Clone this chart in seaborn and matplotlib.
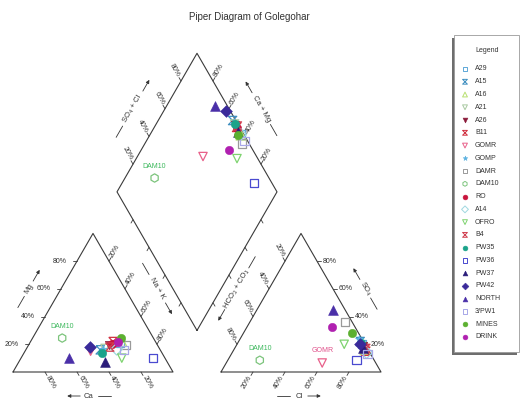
import numpy as np
import matplotlib
matplotlib.use("Agg")
import matplotlib.pyplot as plt
import seaborn as sns
from matplotlib.patches import Rectangle

# -----------------------------
# Data (meq %)
# -----------------------------
SAMPLES = ["A29", "A15", "A16", "A21", "A26", "B11", "GOMR", "GOMP", "DAMR", "DAM10", "RO",
           "A14", "OFRO", "B4", "PW35", "PW36", "PW37", "PW42", "NORTH", "3/PW1", "MINES", "DRINK"]
NA_K = [56.5, 46.5, 57, 49, 50, 51.5, 41, 48, 60.5, 18.5, 52,
        56.5, 63, 51.5, 49, 82.5, 54, 39, 30, 61.5, 55, 55]
MG = [21, 16, 22, 17, 19.5, 22, 15, 16.5, 19.5, 24.5, 20,
      16.5, 10, 18, 13.5, 10, 7, 18, 10, 16, 24.5, 21.5]
CL = [78, 76, 82, 80, 79, 83, 60, 74, 59.5, 20, 81,
      84, 67, 82, 77, 80.5, 80, 77, 47.5, 85, 68, 53]
SO4 = [20, 22, 16, 18, 19, 15, 6.5, 24, 36, 8.5, 17,
       14, 20, 17, 21, 8.5, 17, 20, 44.5, 13, 28, 32.5]

HOURGLASS = [(-1, 1), (1, 1), (-1, -1), (1, -1), (-1, 1)]
MARKERS = ["s", HOURGLASS, "^", "v", "v", HOURGLASS, "v", "*", "s", "h", "o",
           "D", "v", HOURGLASS, "o", "s", "^", "D", "^", "s", "o", "o"]
FILLED = [False, False, False, False, True, False, False, True, False, False, True,
          False, False, False, True, False, True, True, True, False, True, True]
COLORS = ["#5fa8d8", "#3f8fc0", "#b8e070", "#a8c8a0", "#8b1a3a", "#d03040", "#e8608a",
          "#58b0e0", "#9a9a9a", "#7cc47c", "#c8143c", "#9fd8e0", "#7ed36f", "#d04050",
          "#1aa38a", "#4a4ad0", "#2b1d7a", "#3a2a9a", "#4a2fa8", "#a8a8e8", "#5cb030", "#b020b0"]

TICK_VALUES = [20, 40, 60, 80]

# -----------------------------
# Geometry
# -----------------------------
GAP = 0.3
H = np.sqrt(3) / 2
PX = 160.0          # pixels per unit side
X0, Y0 = 13, 372    # pixel position of the cation triangle's left corner
EDGE = "#3a3a3a"
TXT = "#333333"


def to_data(xp, yp):
    return (xp - X0) / PX, (Y0 - yp) / PX


def cation_xy(nak, mg):
    return nak + 0.5 * mg, H * mg


def anion_xy(cl, so4):
    return 1 + GAP + cl + 0.5 * so4, H * so4


def diamond_xy(nak, so4cl):
    a, b = 1 - nak, so4cl
    return 1 + GAP / 2 + 0.5 * (b - a), H * GAP + H * (a + b)


def unit(deg):
    r = np.radians(deg)
    return np.array([np.cos(r), np.sin(r)])


def tick(ax, p, deg, length=4):
    q = np.asarray(p) + unit(deg) * length / PX
    ax.plot([p[0], q[0]], [p[1], q[1]], color=EDGE, lw=0.6)


def rot_label(ax, p, deg, text, rot, dist=12):
    q = np.asarray(p) + unit(deg) * dist / PX
    ax.text(q[0], q[1], text, rotation=rot, ha="center", va="center",
            fontsize=5, color=TXT, rotation_mode="anchor")


def axis_title(ax, mid, normal_deg, text, angle, forward, dist=28, seg=13):
    u = unit(angle)
    c = np.asarray(mid) + unit(normal_deg) * dist / PX
    half = (len(text) * 1.9 + 2) / PX
    gap = 3 / PX
    ax.text(c[0], c[1], text, rotation=angle, ha="center", va="center",
            fontsize=5.5, color=TXT, rotation_mode="anchor")
    p1, p0 = c - (half + gap) * u, c - (half + gap + seg / PX) * u
    q1, q2 = c + (half + gap) * u, c + (half + gap + seg / PX) * u
    arrow = dict(arrowstyle="-|>", lw=0.6, color=TXT, mutation_scale=5, shrinkA=0, shrinkB=0)
    if forward:
        ax.plot([p0[0], p1[0]], [p0[1], p1[1]], color=TXT, lw=0.6)
        ax.annotate("", xy=q2, xytext=q1, arrowprops=arrow)
    else:
        ax.annotate("", xy=p0, xytext=p1, arrowprops=arrow)
        ax.plot([q1[0], q2[0]], [q1[1], q2[1]], color=TXT, lw=0.6)


def draw_marker(ax, xs, ys, marker, color, filled, size, lw=0.9):
    if filled:
        sns.scatterplot(x=np.asarray(xs), y=np.asarray(ys), ax=ax, marker=marker, s=size,
                        color=color, edgecolor=color, linewidth=0.4, legend=False, zorder=5)
    else:
        sns.scatterplot(x=np.asarray(xs), y=np.asarray(ys), ax=ax, marker=marker, s=size,
                        facecolor="none", edgecolor=color, linewidth=lw, legend=False, zorder=5)


# -----------------------------
# Figure
# -----------------------------
sns.set_theme(style="white")
plt.rcParams["font.family"] = ["Liberation Sans", "DejaVu Sans"]

fig = plt.figure(figsize=(5.3, 4.03), dpi=100)
ax = fig.add_axes([0, 0, 1, 1])

# outlines
B = np.array([1 + GAP / 2, H * GAP])
eL, eR = np.array([-0.5, H]), np.array([0.5, H])
cat = np.array([[0, 0], [1, 0], [0.5, H], [0, 0]])
ani = cat + np.array([1 + GAP, 0])
dia = np.array([B, B + eL, B + eL + eR, B + eR, B])
for poly in (cat, ani, dia):
    ax.plot(poly[:, 0], poly[:, 1], color=EDGE, lw=0.8)

for val in TICK_VALUES:
    v = val / 100
    lab = f"{val}%"
    # cation triangle
    p = (1 - v, 0)
    tick(ax, p, 300); rot_label(ax, p, 300, lab, -60)
    p = (0.5 * v, H * v)
    tick(ax, p, 180)
    ax.text(p[0] - 10 / PX, p[1], lab, ha="right", va="center", fontsize=5, color=TXT)
    p = (0.5 + 0.5 * v, H * (1 - v))
    tick(ax, p, 60); rot_label(ax, p, 60, lab, 60)
    # anion triangle
    p = (1 + GAP + v, 0)
    tick(ax, p, 240); rot_label(ax, p, 240, lab, 60)
    p = (1 + GAP + 1 - 0.5 * v, H * v)
    tick(ax, p, 0)
    ax.text(p[0] + 6 / PX, p[1], lab, ha="left", va="center", fontsize=5, color=TXT)
    p = (1 + GAP + 0.5 * (1 - v), H * (1 - v))
    tick(ax, p, 120); rot_label(ax, p, 120, lab, -60)
    # diamond
    p = B + eL + v * eR
    tick(ax, p, 120); rot_label(ax, p, 120, lab, -60)
    p = B + eR + v * eL
    tick(ax, p, 60); rot_label(ax, p, 60, lab, 60)
    tick(ax, B + v * eL, 240)
    tick(ax, B + v * eR, 300)

# axis titles
ca_c = to_data(89, 396)
axis_title(ax, ca_c, 90, "Ca", 0, False, dist=0)
cl_c = to_data(299, 396)
axis_title(ax, cl_c, 90, "Cl", 0, True, dist=0)
axis_title(ax, (0.25, H / 2), 150, "Mg", 60, True)
axis_title(ax, (0.75, H / 2), 30, "Na + K", -60, True)
axis_title(ax, (1 + GAP + 0.25, H / 2), 150, "HCO\u2083 + CO\u2083", 60, False)
axis_title(ax, (1 + GAP + 0.75, H / 2), 30, "SO\u2084", -60, False)
axis_title(ax, B + eL + 0.5 * eR, 150, "SO\u2084 + Cl", 60, True)
axis_title(ax, B + eR + 0.5 * eL, 30, "Ca + Mg", -60, False)

# samples
for i, name in enumerate(SAMPLES):
    nak, mg, cl, so4 = NA_K[i] / 100, MG[i] / 100, CL[i] / 100, SO4[i] / 100
    pts = [cation_xy(nak, mg), anion_xy(cl, so4), diamond_xy(nak, cl + so4)]
    size = 50 if MARKERS[i] == "^" else 36
    draw_marker(ax, [p[0] for p in pts], [p[1] for p in pts], MARKERS[i], COLORS[i], FILLED[i], size)
    if name in ("DAM10", "GOMR"):
        tpts = pts if name == "DAM10" else pts[1:2]
        lc = "#3cb85c" if name == "DAM10" else "#e0508a"
        for p in tpts:
            ax.text(p[0], p[1] + 12 / PX, name, ha="center", va="center", fontsize=5, color=lc)

# legend box
lx0, ly0 = to_data(454, 352)
lx1, ly1 = to_data(519, 35)
ax.add_patch(Rectangle((lx0 - 2.5 / PX, ly0 - 2.5 / PX), lx1 - lx0, ly1 - ly0,
                       facecolor="#6e6e6e", edgecolor="none", zorder=6))
ax.add_patch(Rectangle((lx0, ly0), lx1 - lx0, ly1 - ly0,
                       facecolor="white", edgecolor="#9a9a9a", lw=0.6, zorder=7))
tx, ty = to_data(487, 51)
ax.text(tx, ty, "Legend", ha="center", va="center", fontsize=5, color=TXT, zorder=8)
for i, name in enumerate(SAMPLES):
    mx, my = to_data(465, 69 + i * 12.76)
    draw_marker(ax, [mx], [my], MARKERS[i], COLORS[i], FILLED[i], 12, lw=0.7)
    ax.collections[-1].set_zorder(9)
    ax.text(mx + 10 / PX, my, name, ha="left", va="center", fontsize=5, color=TXT, zorder=9)

tx, ty = to_data(249, 17)
ax.text(tx, ty, "Piper Diagram of Golegohar", ha="center", va="center", fontsize=7, color=TXT)

ax.set_xlim(-X0 / PX, (530 - X0) / PX)
ax.set_ylim(-(403 - Y0) / PX, Y0 / PX)
ax.axis("off")

fig.savefig("out.png", dpi=100)
